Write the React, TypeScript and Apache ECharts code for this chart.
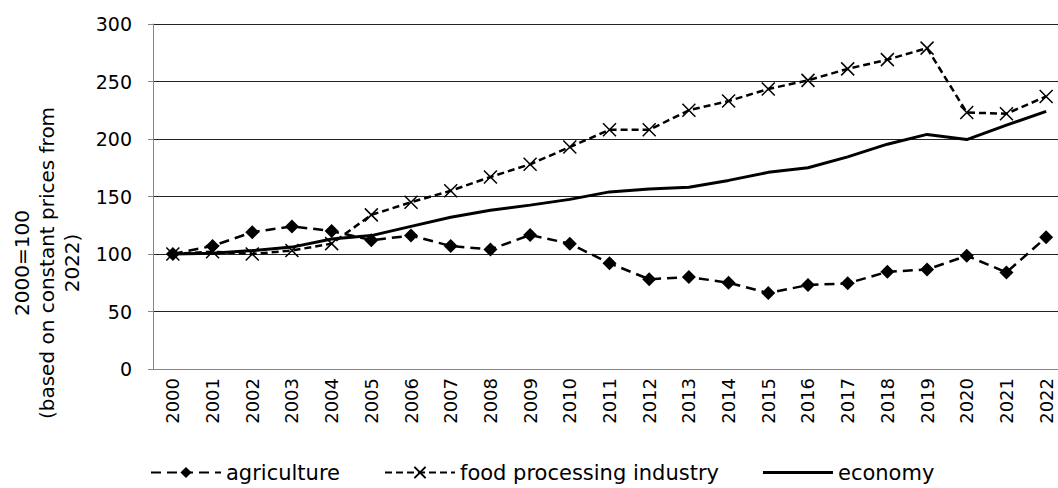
import React, { useEffect, useRef } from "react";
import * as echarts from "echarts";

const years = ["2000","2001","2002","2003","2004","2005","2006","2007","2008","2009","2010","2011","2012","2013","2014","2015","2016","2017","2018","2019","2020","2021","2022"];
const agriculture = [100,107,119,124,120,112,116,107,104,116.5,109,92,78,80,75,66,73,74.5,84.5,86.5,98.5,84,114.5];
const foodProcessing = [100,102,100,103,109,134,145,155,167,178,193,208,208,225,233,243.5,251,261,269,279,223,222,237];
const economy = [100,100.6,103,106,113,116,124,132,138,142.5,147.5,154,156.5,158,164,171,175,184.5,195.5,204,199.5,212,224];
const yTicks = { min: 0, max: 300, interval: 50 };
const yAxisTitle = "2000=100\n(based on constant prices from\n2022)";

const FONT = "DejaVu Sans, Verdana, sans-serif";

export default function App() {
  const ref = useRef<HTMLDivElement>(null);
  useEffect(() => {
    if (!ref.current) return;
    const chart = echarts.init(ref.current, null, { renderer: "svg" });
    chart.setOption({
      animation: false,
      textStyle: { fontFamily: FONT, color: "#000" },
      grid: { left: 153, right: 4, top: 24, bottom: 119, containLabel: false },
      xAxis: {
        type: "category",
        data: years,
        boundaryGap: true,
        axisLine: { show: true, lineStyle: { color: "#868686", width: 1 } },
        axisTick: { show: false },
        axisLabel: { rotate: 90, fontSize: 18, fontFamily: FONT, color: "#000", margin: 9, interval: 0 },
        splitLine: { show: false },
      },
      yAxis: {
        type: "value",
        min: yTicks.min,
        max: yTicks.max,
        interval: yTicks.interval,
        axisLine: { show: true, lineStyle: { color: "#868686", width: 1 } },
        axisTick: { show: true, length: 5, lineStyle: { color: "#868686" } },
        axisLabel: { fontSize: 19, fontFamily: FONT, color: "#000", margin: 21 },
        splitLine: { show: true, lineStyle: { color: "#222", width: 1 } },
      },
      legend: {
        left: 145,
        top: 457,
        itemWidth: 70,
        itemHeight: 14,
        itemGap: 44,
        textStyle: { fontSize: 21, fontFamily: FONT, color: "#000" },
        data: [
          { name: "agriculture" },
          { name: "food processing industry" },
          { name: "economy", icon: "path://M0,0M70,14M0,5.5H70V8.5H0Z" },
        ],
      },
      graphic: [
        {
          type: "text",
          x: 47,
          y: 263,
          rotation: Math.PI / 2,
          style: {
            text: yAxisTitle,
            fontSize: 20,
            fontFamily: FONT,
            fill: "#000",
            align: "center",
            verticalAlign: "middle",
            lineHeight: 25,
          },
        },
      ],
      series: [
        {
          name: "agriculture",
          type: "line",
          data: agriculture,
          symbol: "diamond",
          symbolSize: 14,
          itemStyle: { color: "#000" },
          lineStyle: { color: "#000", width: 2.5, type: [10, 6] },
          z: 3,
        },
        {
          name: "food processing industry",
          type: "line",
          data: foodProcessing,
          symbol: "path://M0,0L10,10M10,0L0,10",
          symbolSize: 13,
          itemStyle: { color: "transparent", borderColor: "#000", borderWidth: 1.5 },
          lineStyle: { color: "#000", width: 2.5, type: [7, 4] },
          z: 2,
        },
        {
          name: "economy",
          type: "line",
          data: economy,
          symbol: "none",
          itemStyle: { color: "#000" },
          lineStyle: { color: "#000", width: 3, type: "solid" },
          z: 1,
        },
      ],
    });
    return () => chart.dispose();
  }, []);
  return (
    <div style={{ position: "absolute", left: 0, top: 0, width: 1058, height: 488, overflow: "hidden", background: "#fff" }}>
      <div ref={ref} style={{ width: 1070, height: 488 }} />
    </div>
  );
}
